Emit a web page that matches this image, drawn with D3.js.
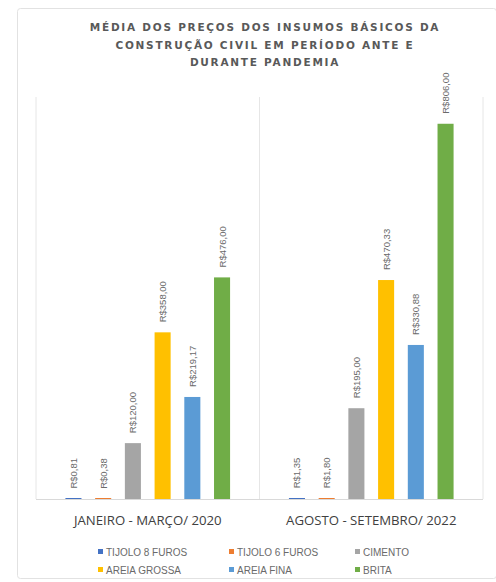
<!DOCTYPE html>
<html>
<head>
<meta charset="utf-8">
<script src="https://cdn.jsdelivr.net/npm/d3@7"></script>
<style>
  html, body { margin: 0; padding: 0; background: #ffffff; }
  svg { display: block; }
</style>
</head>
<body>
<svg id="chart" width="496" height="582"></svg>
<script>
// Average prices of basic construction inputs, before and during the pandemic
const periods = ["JANEIRO - MARÇO/ 2020", "AGOSTO - SETEMBRO/ 2022"];
const materials = ["TIJOLO 8 FUROS", "TIJOLO 6 FUROS", "CIMENTO", "AREIA GROSSA", "AREIA FINA", "BRITA"];
const colors = ["#4472C4", "#ED7D31", "#A5A5A5", "#FFC000", "#5B9BD5", "#70AD47"];
const values2020 = [0.81, 0.38, 120.00, 358.00, 219.17, 476.00];
const values2022 = [1.35, 1.80, 195.00, 470.33, 330.88, 806.00];
const titleLines = [
  "MÉDIA DOS PREÇOS DOS INSUMOS BÁSICOS DA",
  "CONSTRUÇÃO CIVIL EM PERÍODO ANTE E",
  "DURANTE PANDEMIA"
];

const seriesValues = [values2020, values2022];
const rows = periods.map((p, i) => ({
  period: p,
  items: materials.map((m, j) => ({ material: m, value: seriesValues[i][j], color: colors[j] }))
}));

const svg = d3.select("#chart");
const W = 496;

// chart frame
svg.append("rect")
  .attr("x", 17.5).attr("y", 8.5)
  .attr("width", W - 17).attr("height", 570)
  .attr("rx", 3)
  .attr("fill", "#ffffff")
  .attr("stroke", "#e2e2e2");

// title
const title = svg.append("text")
  .attr("text-anchor", "middle")
  .attr("font-family", "DejaVu Sans, sans-serif")
  .attr("font-weight", "bold")
  .attr("font-size", 10.5)
  .attr("letter-spacing", 1.75)
  .attr("fill", "#595959");
titleLines.forEach((t, i) => {
  title.append("tspan").attr("x", 265).attr("y", 31 + i * 17.5).text(t);
});

const plotLeft = 36, plotRight = 483, plotTop = 97, baseY = 499;

const x0 = d3.scaleBand().domain(periods).range([plotLeft, plotRight]).paddingInner(0).paddingOuter(0);
const x1 = d3.scaleBand().domain(materials).range([0, x0.bandwidth()]).paddingInner(0.46).paddingOuter(0.99);
const y = d3.scaleLinear().domain([0, 900]).range([baseY, 80]);

// category separators
const seps = [plotLeft, plotLeft + x0.bandwidth(), plotRight];
svg.append("g").selectAll("line").data(seps).join("line")
  .attr("x1", d => d).attr("x2", d => d)
  .attr("y1", plotTop).attr("y2", baseY)
  .attr("stroke", "#e6e6e6").attr("stroke-width", 1);

const groups = svg.append("g").selectAll("g").data(rows).join("g")
  .attr("transform", d => `translate(${x0(d.period)},0)`);

groups.selectAll("rect").data(d => d.items).join("rect")
  .attr("x", d => x1(d.material))
  .attr("y", d => Math.min(y(d.value), baseY - 1))
  .attr("width", x1.bandwidth())
  .attr("height", d => Math.max(baseY - y(d.value), 1))
  .attr("fill", d => d.color);

const fmt = v => "R$" + d3.format(".2f")(v).replace(".", ",");

groups.selectAll("text.val").data(d => d.items).join("text")
  .attr("class", "val")
  .attr("transform", d => `translate(${x1(d.material) + x1.bandwidth() / 2 + 3.5},${y(d.value) - 10}) rotate(-90)`)
  .attr("font-family", "Liberation Sans, Arial, sans-serif")
  .attr("font-size", 9.5)
  .attr("fill", "#6a6a6a")
  .text(d => fmt(d.value));

// baseline
svg.append("line")
  .attr("x1", plotLeft).attr("x2", plotRight)
  .attr("y1", baseY + 0.5).attr("y2", baseY + 0.5)
  .attr("stroke", "#d9d9d9");

// category axis labels
svg.append("g").selectAll("text").data(periods).join("text")
  .attr("x", d => x0(d) + x0.bandwidth() / 2)
  .attr("y", 525)
  .attr("text-anchor", "middle")
  .attr("font-family", "Open Sans, sans-serif")
  .attr("font-size", 13.2)
  .attr("fill", "#404040")
  .text(d => d);

// legend
const legendX = [98, 229, 355];
const legend = svg.append("g").selectAll("g").data(materials).join("g")
  .attr("transform", (d, i) => `translate(${legendX[i % 3]},${552 + Math.floor(i / 3) * 18})`);
legend.append("rect")
  .attr("x", 0).attr("y", -3).attr("width", 5).attr("height", 5)
  .attr("fill", (d, i) => colors[i]);
legend.append("text")
  .attr("x", 8).attr("y", 3.5)
  .attr("font-family", "Liberation Sans, Arial, sans-serif")
  .attr("font-size", 10)
  .attr("fill", "#6a6a6a")
  .text(d => d);
</script>
</body>
</html>
